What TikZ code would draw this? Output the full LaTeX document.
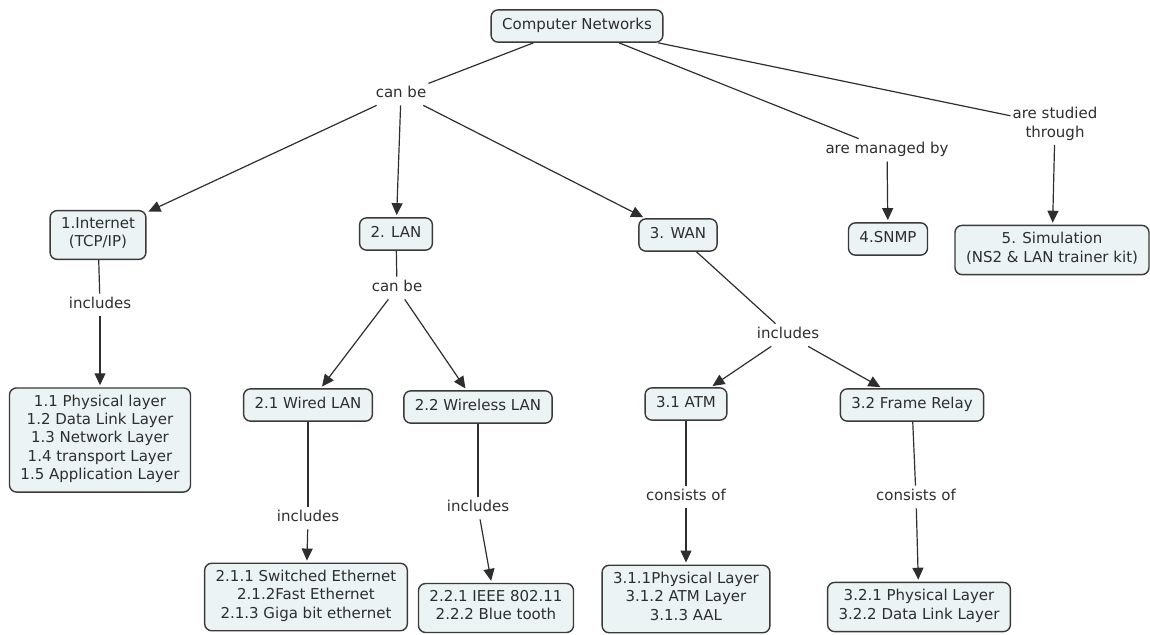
\documentclass[tikz,border=0pt]{standalone}
\usepackage{fontspec}
\setmainfont{DejaVu Sans}
\usetikzlibrary{arrows.meta}
\definecolor{boxfill}{HTML}{EBF3F5}
\definecolor{boxline}{HTML}{3A3A3A}
\definecolor{ink}{HTML}{2E2E2E}

\begin{document}
\begin{tikzpicture}[x=1pt,y=-1pt,
  font=\fontsize{15}{18.3}\selectfont, text=ink,
  concept/.style={draw=boxline, line width=1.4pt, fill=boxfill, rounded corners=7pt,
    align=center, inner xsep=11pt, inner ysep=7pt,
    execute at begin node=\strut, execute at end node=\strut},
  phrase/.style={align=center, inner sep=2pt,
    execute at begin node=\strut, execute at end node=\strut},
  link/.style={draw=ink, line width=1.2pt},
  arrow/.style={link, -{Triangle[length=12pt,width=11pt]}, shorten >=2pt}]

\useasboundingbox (0,0) rectangle (1150,634);

% concepts and linking phrases
\node[concept] (cn) at (577,26) {Computer Networks};
\node[phrase] (canbe) at (401,94) {can be};
\node[phrase] (mgd) at (887,150) {are managed by};
\node[phrase] (stud) at (1055,125) {are studied\\through};

\node[concept] (inet) at (98,235) {1.Internet\\(TCP/IP)};
\node[concept] (lan) at (396,234) {2. LAN};
\node[concept] (wan) at (678,235) {3. WAN};
\node[concept] (snmp) at (888,239) {4.SNMP};
\node[concept] (sim) at (1052,250) {5. Simulation\\(NS2 \& LAN trainer kit)};

\node[phrase] (inc1) at (100,305) {includes};
\node[concept] (osi) at (100,440) {1.1 Physical layer\\1.2 Data Link Layer\\1.3 Network Layer\\1.4 transport Layer\\1.5 Application Layer};

\node[phrase] (canbe2) at (397,288) {can be};
\node[concept] (wired) at (308,405) {2.1 Wired LAN};
\node[concept] (wless) at (478,407) {2.2 Wireless LAN};
\node[phrase] (incw) at (308,518) {includes};
\node[phrase] (incwl) at (478,508) {includes};
\node[concept] (eth) at (306,597) {2.1.1 Switched Ethernet\\2.1.2Fast Ethernet\\2.1.3 Giga bit ethernet};
\node[concept] (wifi) at (496,608) {2.2.1 IEEE 802.11\\2.2.2 Blue tooth};

\node[phrase] (inc3) at (788,335) {includes};
\node[concept] (atm) at (686,404) {3.1 ATM};
\node[concept] (fr) at (912,405) {3.2 Frame Relay};
\node[phrase] (cons1) at (686,497) {consists of};
\node[phrase] (cons2) at (916,497) {consists of};
\node[concept] (atml) at (686,599) {3.1.1Physical Layer\\3.1.2 ATM Layer\\3.1.3 AAL};
\node[concept] (frl) at (919,607) {3.2.1 Physical Layer\\3.2.2 Data Link Layer};

% connectors
\draw[link] (cn) -- (canbe);
\draw[arrow] (canbe) -- (inet);
\draw[arrow] (canbe) -- (lan);
\draw[arrow] (canbe) -- (wan);
\draw[link] (cn) -- (mgd);
\draw[arrow] (mgd) -- (snmp);
\draw[link] (cn) -- (stud);
\draw[arrow] (stud) -- (sim);

\draw[link] (inet) -- (inc1);
\draw[arrow] (inc1) -- (osi);

\draw[link] (lan) -- (canbe2);
\draw[arrow] (canbe2) -- (wired);
\draw[arrow] (canbe2) -- (wless);
\draw[link] (wired) -- (incw);
\draw[arrow] (incw) -- (eth);
\draw[link] (wless) -- (incwl);
\draw[arrow] (incwl) -- (wifi);

\draw[link] (wan) -- (inc3);
\draw[arrow] (inc3) -- (atm);
\draw[arrow] (inc3) -- (fr);
\draw[link] (atm) -- (cons1);
\draw[arrow] (cons1) -- (atml);
\draw[link] (fr) -- (cons2);
\draw[arrow] (cons2) -- (frl);
\end{tikzpicture}
\end{document}
